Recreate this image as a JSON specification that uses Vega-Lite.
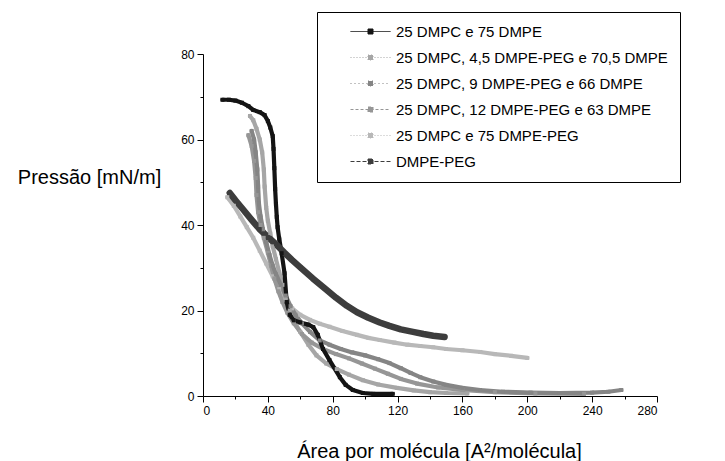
{
  "$schema": "https://vega.github.io/schema/vega-lite/v6.json",
  "width": 454,
  "height": 342,
  "autosize": {"type": "none"},
  "padding": {"left": 203, "top": 54, "right": 68, "bottom": 65},
  "background": "white",
  "config": {
    "font": "Liberation Sans",
    "view": {"stroke": null},
    "axis": {
      "grid": false,
      "domainColor": "black",
      "tickColor": "black",
      "labelColor": "black",
      "titleColor": "black",
      "labelFontSize": 12,
      "titleFontSize": 20,
      "titleFontWeight": "normal",
      "domainWidth": 1,
      "tickWidth": 1
    }
  },
  "datasets": {
    "isotermas": [
      {"series": "25 DMPC e 75 DMPE-PEG", "area": 15, "pressure": 46.5},
      {"series": "25 DMPC e 75 DMPE-PEG", "area": 19, "pressure": 44.5},
      {"series": "25 DMPC e 75 DMPE-PEG", "area": 23, "pressure": 42},
      {"series": "25 DMPC e 75 DMPE-PEG", "area": 27, "pressure": 39.5},
      {"series": "25 DMPC e 75 DMPE-PEG", "area": 31, "pressure": 37},
      {"series": "25 DMPC e 75 DMPE-PEG", "area": 35, "pressure": 34},
      {"series": "25 DMPC e 75 DMPE-PEG", "area": 39, "pressure": 31},
      {"series": "25 DMPC e 75 DMPE-PEG", "area": 43, "pressure": 28},
      {"series": "25 DMPC e 75 DMPE-PEG", "area": 47, "pressure": 25},
      {"series": "25 DMPC e 75 DMPE-PEG", "area": 51, "pressure": 22.5},
      {"series": "25 DMPC e 75 DMPE-PEG", "area": 55, "pressure": 20.5},
      {"series": "25 DMPC e 75 DMPE-PEG", "area": 60, "pressure": 19},
      {"series": "25 DMPC e 75 DMPE-PEG", "area": 66, "pressure": 17.8},
      {"series": "25 DMPC e 75 DMPE-PEG", "area": 72, "pressure": 16.9},
      {"series": "25 DMPC e 75 DMPE-PEG", "area": 78, "pressure": 16.2},
      {"series": "25 DMPC e 75 DMPE-PEG", "area": 86, "pressure": 15.2},
      {"series": "25 DMPC e 75 DMPE-PEG", "area": 95, "pressure": 14.3},
      {"series": "25 DMPC e 75 DMPE-PEG", "area": 102, "pressure": 13.6},
      {"series": "25 DMPC e 75 DMPE-PEG", "area": 109, "pressure": 13.1},
      {"series": "25 DMPC e 75 DMPE-PEG", "area": 118, "pressure": 12.5},
      {"series": "25 DMPC e 75 DMPE-PEG", "area": 126, "pressure": 12},
      {"series": "25 DMPC e 75 DMPE-PEG", "area": 134, "pressure": 11.7},
      {"series": "25 DMPC e 75 DMPE-PEG", "area": 142, "pressure": 11.4},
      {"series": "25 DMPC e 75 DMPE-PEG", "area": 150, "pressure": 11},
      {"series": "25 DMPC e 75 DMPE-PEG", "area": 160, "pressure": 10.7},
      {"series": "25 DMPC e 75 DMPE-PEG", "area": 171, "pressure": 10.3},
      {"series": "25 DMPC e 75 DMPE-PEG", "area": 180, "pressure": 9.8},
      {"series": "25 DMPC e 75 DMPE-PEG", "area": 190, "pressure": 9.4},
      {"series": "25 DMPC e 75 DMPE-PEG", "area": 200, "pressure": 8.9},

      {"series": "25 DMPC, 4,5 DMPE-PEG e 70,5 DMPE", "area": 29, "pressure": 65.5},
      {"series": "25 DMPC, 4,5 DMPE-PEG e 70,5 DMPE", "area": 31, "pressure": 64.5},
      {"series": "25 DMPC, 4,5 DMPE-PEG e 70,5 DMPE", "area": 33, "pressure": 62.5},
      {"series": "25 DMPC, 4,5 DMPE-PEG e 70,5 DMPE", "area": 35, "pressure": 60},
      {"series": "25 DMPC, 4,5 DMPE-PEG e 70,5 DMPE", "area": 36.5, "pressure": 57},
      {"series": "25 DMPC, 4,5 DMPE-PEG e 70,5 DMPE", "area": 37.5, "pressure": 53},
      {"series": "25 DMPC, 4,5 DMPE-PEG e 70,5 DMPE", "area": 38, "pressure": 49},
      {"series": "25 DMPC, 4,5 DMPE-PEG e 70,5 DMPE", "area": 39, "pressure": 44},
      {"series": "25 DMPC, 4,5 DMPE-PEG e 70,5 DMPE", "area": 40, "pressure": 41},
      {"series": "25 DMPC, 4,5 DMPE-PEG e 70,5 DMPE", "area": 41.5, "pressure": 38},
      {"series": "25 DMPC, 4,5 DMPE-PEG e 70,5 DMPE", "area": 43, "pressure": 35},
      {"series": "25 DMPC, 4,5 DMPE-PEG e 70,5 DMPE", "area": 45, "pressure": 32},
      {"series": "25 DMPC, 4,5 DMPE-PEG e 70,5 DMPE", "area": 47, "pressure": 29},
      {"series": "25 DMPC, 4,5 DMPE-PEG e 70,5 DMPE", "area": 49, "pressure": 26},
      {"series": "25 DMPC, 4,5 DMPE-PEG e 70,5 DMPE", "area": 51, "pressure": 23},
      {"series": "25 DMPC, 4,5 DMPE-PEG e 70,5 DMPE", "area": 53.5, "pressure": 20},
      {"series": "25 DMPC, 4,5 DMPE-PEG e 70,5 DMPE", "area": 56, "pressure": 17.5},
      {"series": "25 DMPC, 4,5 DMPE-PEG e 70,5 DMPE", "area": 60, "pressure": 15},
      {"series": "25 DMPC, 4,5 DMPE-PEG e 70,5 DMPE", "area": 65, "pressure": 12},
      {"series": "25 DMPC, 4,5 DMPE-PEG e 70,5 DMPE", "area": 70, "pressure": 9.5},
      {"series": "25 DMPC, 4,5 DMPE-PEG e 70,5 DMPE", "area": 76, "pressure": 7.6},
      {"series": "25 DMPC, 4,5 DMPE-PEG e 70,5 DMPE", "area": 82.5, "pressure": 6.3},
      {"series": "25 DMPC, 4,5 DMPE-PEG e 70,5 DMPE", "area": 90, "pressure": 5},
      {"series": "25 DMPC, 4,5 DMPE-PEG e 70,5 DMPE", "area": 98.6, "pressure": 3.7},
      {"series": "25 DMPC, 4,5 DMPE-PEG e 70,5 DMPE", "area": 108, "pressure": 2.7},
      {"series": "25 DMPC, 4,5 DMPE-PEG e 70,5 DMPE", "area": 119.6, "pressure": 1.9},
      {"series": "25 DMPC, 4,5 DMPE-PEG e 70,5 DMPE", "area": 130, "pressure": 1.3},
      {"series": "25 DMPC, 4,5 DMPE-PEG e 70,5 DMPE", "area": 140, "pressure": 0.9},
      {"series": "25 DMPC, 4,5 DMPE-PEG e 70,5 DMPE", "area": 150, "pressure": 0.7},
      {"series": "25 DMPC, 4,5 DMPE-PEG e 70,5 DMPE", "area": 163, "pressure": 0.6},

      {"series": "25 DMPC, 12 DMPE-PEG e 63 DMPE", "area": 28, "pressure": 61},
      {"series": "25 DMPC, 12 DMPE-PEG e 63 DMPE", "area": 30, "pressure": 58.5},
      {"series": "25 DMPC, 12 DMPE-PEG e 63 DMPE", "area": 31.5, "pressure": 55},
      {"series": "25 DMPC, 12 DMPE-PEG e 63 DMPE", "area": 32.5, "pressure": 51},
      {"series": "25 DMPC, 12 DMPE-PEG e 63 DMPE", "area": 33, "pressure": 47},
      {"series": "25 DMPC, 12 DMPE-PEG e 63 DMPE", "area": 34, "pressure": 43},
      {"series": "25 DMPC, 12 DMPE-PEG e 63 DMPE", "area": 35.5, "pressure": 40},
      {"series": "25 DMPC, 12 DMPE-PEG e 63 DMPE", "area": 37.5, "pressure": 37},
      {"series": "25 DMPC, 12 DMPE-PEG e 63 DMPE", "area": 40, "pressure": 33.5},
      {"series": "25 DMPC, 12 DMPE-PEG e 63 DMPE", "area": 42, "pressure": 30.5},
      {"series": "25 DMPC, 12 DMPE-PEG e 63 DMPE", "area": 44, "pressure": 27.5},
      {"series": "25 DMPC, 12 DMPE-PEG e 63 DMPE", "area": 46.5, "pressure": 24.5},
      {"series": "25 DMPC, 12 DMPE-PEG e 63 DMPE", "area": 49, "pressure": 22},
      {"series": "25 DMPC, 12 DMPE-PEG e 63 DMPE", "area": 52, "pressure": 19.5},
      {"series": "25 DMPC, 12 DMPE-PEG e 63 DMPE", "area": 56, "pressure": 17},
      {"series": "25 DMPC, 12 DMPE-PEG e 63 DMPE", "area": 61, "pressure": 14.5},
      {"series": "25 DMPC, 12 DMPE-PEG e 63 DMPE", "area": 67, "pressure": 12.5},
      {"series": "25 DMPC, 12 DMPE-PEG e 63 DMPE", "area": 74, "pressure": 11},
      {"series": "25 DMPC, 12 DMPE-PEG e 63 DMPE", "area": 82, "pressure": 9.8},
      {"series": "25 DMPC, 12 DMPE-PEG e 63 DMPE", "area": 90, "pressure": 8.8},
      {"series": "25 DMPC, 12 DMPE-PEG e 63 DMPE", "area": 98, "pressure": 7.6},
      {"series": "25 DMPC, 12 DMPE-PEG e 63 DMPE", "area": 106, "pressure": 6.4},
      {"series": "25 DMPC, 12 DMPE-PEG e 63 DMPE", "area": 114, "pressure": 5.2},
      {"series": "25 DMPC, 12 DMPE-PEG e 63 DMPE", "area": 122, "pressure": 4},
      {"series": "25 DMPC, 12 DMPE-PEG e 63 DMPE", "area": 132, "pressure": 2.9},
      {"series": "25 DMPC, 12 DMPE-PEG e 63 DMPE", "area": 145, "pressure": 2},
      {"series": "25 DMPC, 12 DMPE-PEG e 63 DMPE", "area": 160, "pressure": 1.4},
      {"series": "25 DMPC, 12 DMPE-PEG e 63 DMPE", "area": 180, "pressure": 0.9},
      {"series": "25 DMPC, 12 DMPE-PEG e 63 DMPE", "area": 205, "pressure": 0.6},
      {"series": "25 DMPC, 12 DMPE-PEG e 63 DMPE", "area": 235, "pressure": 0.5},

      {"series": "25 DMPC, 9 DMPE-PEG e 66 DMPE", "area": 30, "pressure": 62},
      {"series": "25 DMPC, 9 DMPE-PEG e 66 DMPE", "area": 31.5, "pressure": 60},
      {"series": "25 DMPC, 9 DMPE-PEG e 66 DMPE", "area": 32.5, "pressure": 57},
      {"series": "25 DMPC, 9 DMPE-PEG e 66 DMPE", "area": 33.5, "pressure": 53},
      {"series": "25 DMPC, 9 DMPE-PEG e 66 DMPE", "area": 34, "pressure": 49},
      {"series": "25 DMPC, 9 DMPE-PEG e 66 DMPE", "area": 34.5, "pressure": 45},
      {"series": "25 DMPC, 9 DMPE-PEG e 66 DMPE", "area": 35.5, "pressure": 42},
      {"series": "25 DMPC, 9 DMPE-PEG e 66 DMPE", "area": 37, "pressure": 39},
      {"series": "25 DMPC, 9 DMPE-PEG e 66 DMPE", "area": 39, "pressure": 36},
      {"series": "25 DMPC, 9 DMPE-PEG e 66 DMPE", "area": 41, "pressure": 33},
      {"series": "25 DMPC, 9 DMPE-PEG e 66 DMPE", "area": 43, "pressure": 30.5},
      {"series": "25 DMPC, 9 DMPE-PEG e 66 DMPE", "area": 45, "pressure": 28.5},
      {"series": "25 DMPC, 9 DMPE-PEG e 66 DMPE", "area": 48, "pressure": 26},
      {"series": "25 DMPC, 9 DMPE-PEG e 66 DMPE", "area": 51, "pressure": 23.5},
      {"series": "25 DMPC, 9 DMPE-PEG e 66 DMPE", "area": 54, "pressure": 21},
      {"series": "25 DMPC, 9 DMPE-PEG e 66 DMPE", "area": 57, "pressure": 19},
      {"series": "25 DMPC, 9 DMPE-PEG e 66 DMPE", "area": 61, "pressure": 17},
      {"series": "25 DMPC, 9 DMPE-PEG e 66 DMPE", "area": 66, "pressure": 15},
      {"series": "25 DMPC, 9 DMPE-PEG e 66 DMPE", "area": 72, "pressure": 13},
      {"series": "25 DMPC, 9 DMPE-PEG e 66 DMPE", "area": 78, "pressure": 12},
      {"series": "25 DMPC, 9 DMPE-PEG e 66 DMPE", "area": 85, "pressure": 11},
      {"series": "25 DMPC, 9 DMPE-PEG e 66 DMPE", "area": 92, "pressure": 10.2},
      {"series": "25 DMPC, 9 DMPE-PEG e 66 DMPE", "area": 100, "pressure": 9.5},
      {"series": "25 DMPC, 9 DMPE-PEG e 66 DMPE", "area": 108, "pressure": 8.6},
      {"series": "25 DMPC, 9 DMPE-PEG e 66 DMPE", "area": 115, "pressure": 7.7},
      {"series": "25 DMPC, 9 DMPE-PEG e 66 DMPE", "area": 122, "pressure": 6.5},
      {"series": "25 DMPC, 9 DMPE-PEG e 66 DMPE", "area": 128, "pressure": 5.4},
      {"series": "25 DMPC, 9 DMPE-PEG e 66 DMPE", "area": 134, "pressure": 4.4},
      {"series": "25 DMPC, 9 DMPE-PEG e 66 DMPE", "area": 142, "pressure": 3.4},
      {"series": "25 DMPC, 9 DMPE-PEG e 66 DMPE", "area": 150, "pressure": 2.6},
      {"series": "25 DMPC, 9 DMPE-PEG e 66 DMPE", "area": 160, "pressure": 1.9},
      {"series": "25 DMPC, 9 DMPE-PEG e 66 DMPE", "area": 171, "pressure": 1.4},
      {"series": "25 DMPC, 9 DMPE-PEG e 66 DMPE", "area": 185, "pressure": 1},
      {"series": "25 DMPC, 9 DMPE-PEG e 66 DMPE", "area": 202, "pressure": 0.8},
      {"series": "25 DMPC, 9 DMPE-PEG e 66 DMPE", "area": 220, "pressure": 0.7},
      {"series": "25 DMPC, 9 DMPE-PEG e 66 DMPE", "area": 240, "pressure": 0.8},
      {"series": "25 DMPC, 9 DMPE-PEG e 66 DMPE", "area": 250, "pressure": 1},
      {"series": "25 DMPC, 9 DMPE-PEG e 66 DMPE", "area": 258, "pressure": 1.4},

      {"series": "DMPE-PEG", "area": 16.5, "pressure": 47.5},
      {"series": "DMPE-PEG", "area": 20, "pressure": 45.8},
      {"series": "DMPE-PEG", "area": 25, "pressure": 43.5},
      {"series": "DMPE-PEG", "area": 30, "pressure": 41.2},
      {"series": "DMPE-PEG", "area": 35, "pressure": 39},
      {"series": "DMPE-PEG", "area": 40, "pressure": 37.2},
      {"series": "DMPE-PEG", "area": 45, "pressure": 35.5},
      {"series": "DMPE-PEG", "area": 50, "pressure": 33.6},
      {"series": "DMPE-PEG", "area": 55, "pressure": 31.8},
      {"series": "DMPE-PEG", "area": 60, "pressure": 30.1},
      {"series": "DMPE-PEG", "area": 67.7, "pressure": 27.5},
      {"series": "DMPE-PEG", "area": 75, "pressure": 25.2},
      {"series": "DMPE-PEG", "area": 82, "pressure": 23},
      {"series": "DMPE-PEG", "area": 88.7, "pressure": 21.1},
      {"series": "DMPE-PEG", "area": 95, "pressure": 19.6},
      {"series": "DMPE-PEG", "area": 102, "pressure": 18.3},
      {"series": "DMPE-PEG", "area": 109, "pressure": 17.2},
      {"series": "DMPE-PEG", "area": 115, "pressure": 16.4},
      {"series": "DMPE-PEG", "area": 122, "pressure": 15.6},
      {"series": "DMPE-PEG", "area": 129.5, "pressure": 15},
      {"series": "DMPE-PEG", "area": 136, "pressure": 14.5},
      {"series": "DMPE-PEG", "area": 142, "pressure": 14.1},
      {"series": "DMPE-PEG", "area": 149, "pressure": 13.8},

      {"series": "25 DMPC e 75 DMPE", "area": 12, "pressure": 69.3},
      {"series": "25 DMPC e 75 DMPE", "area": 16, "pressure": 69.3},
      {"series": "25 DMPC e 75 DMPE", "area": 20, "pressure": 69.1},
      {"series": "25 DMPC e 75 DMPE", "area": 24, "pressure": 68.6},
      {"series": "25 DMPC e 75 DMPE", "area": 28, "pressure": 67.8},
      {"series": "25 DMPC e 75 DMPE", "area": 31, "pressure": 66.9},
      {"series": "25 DMPC e 75 DMPE", "area": 35, "pressure": 66.4},
      {"series": "25 DMPC e 75 DMPE", "area": 38, "pressure": 65.7},
      {"series": "25 DMPC e 75 DMPE", "area": 40, "pressure": 64.3},
      {"series": "25 DMPC e 75 DMPE", "area": 41.5, "pressure": 62.8},
      {"series": "25 DMPC e 75 DMPE", "area": 43, "pressure": 60.8},
      {"series": "25 DMPC e 75 DMPE", "area": 43.5, "pressure": 57.8},
      {"series": "25 DMPC e 75 DMPE", "area": 44, "pressure": 53.3},
      {"series": "25 DMPC e 75 DMPE", "area": 44.5, "pressure": 48.4},
      {"series": "25 DMPC e 75 DMPE", "area": 45, "pressure": 44.9},
      {"series": "25 DMPC e 75 DMPE", "area": 45.5, "pressure": 41.9},
      {"series": "25 DMPC e 75 DMPE", "area": 46, "pressure": 39.5},
      {"series": "25 DMPC e 75 DMPE", "area": 47, "pressure": 36.8},
      {"series": "25 DMPC e 75 DMPE", "area": 48.5, "pressure": 33.4},
      {"series": "25 DMPC e 75 DMPE", "area": 50.3, "pressure": 28.7},
      {"series": "25 DMPC e 75 DMPE", "area": 51.6, "pressure": 22},
      {"series": "25 DMPC e 75 DMPE", "area": 53.5, "pressure": 19},
      {"series": "25 DMPC e 75 DMPE", "area": 56, "pressure": 17.7},
      {"series": "25 DMPC e 75 DMPE", "area": 60, "pressure": 17.2},
      {"series": "25 DMPC e 75 DMPE", "area": 65, "pressure": 16.7},
      {"series": "25 DMPC e 75 DMPE", "area": 68, "pressure": 16.1},
      {"series": "25 DMPC e 75 DMPE", "area": 70.8, "pressure": 14.3},
      {"series": "25 DMPC e 75 DMPE", "area": 74, "pressure": 11},
      {"series": "25 DMPC e 75 DMPE", "area": 78, "pressure": 8.4},
      {"series": "25 DMPC e 75 DMPE", "area": 84.4, "pressure": 4.4},
      {"series": "25 DMPC e 75 DMPE", "area": 88, "pressure": 2.6},
      {"series": "25 DMPC e 75 DMPE", "area": 92.4, "pressure": 1.4},
      {"series": "25 DMPC e 75 DMPE", "area": 98.6, "pressure": 0.7},
      {"series": "25 DMPC e 75 DMPE", "area": 105, "pressure": 0.5},
      {"series": "25 DMPC e 75 DMPE", "area": 117, "pressure": 0.5}
    ]
  },
  "data": {"name": "isotermas"},
  "encoding": {
    "x": {
      "field": "area",
      "type": "quantitative",
      "scale": {"domain": [0, 280], "nice": false, "zero": false},
      "axis": {
        "values": [0, 20, 40, 60, 80, 100, 120, 140, 160, 180, 200, 220, 240, 260, 280],
        "labelExpr": "datum.value % 40 === 0 ? datum.label : ''",
        "tickSize": {"condition": {"test": "datum.value % 40 !== 0", "value": 3}, "value": 6},
        "labelPadding": 3,
        "title": "Área por molécula [A²/molécula]",
        "titleX": 236,
        "titleY": 55,
        "titleAlign": "center",
        "titleBaseline": "middle"
      }
    },
    "y": {
      "field": "pressure",
      "type": "quantitative",
      "scale": {"domain": [0, 80], "nice": false, "zero": false},
      "axis": {
        "values": [0, 10, 20, 30, 40, 50, 60, 70, 80],
        "labelExpr": "datum.value % 20 === 0 ? datum.label : ''",
        "tickSize": {"condition": {"test": "datum.value % 20 !== 0", "value": 3}, "value": 6},
        "labelPadding": 3,
        "title": "Pressão [mN/m]",
        "titleAngle": 0,
        "titleX": -114,
        "titleY": 123,
        "titleAlign": "center",
        "titleBaseline": "middle"
      }
    }
  },
  "layer": [
    {
      "mark": {"type": "line", "strokeWidth": 4.2, "strokeJoin": "round", "strokeCap": "round"},
      "encoding": {
        "color": {
          "field": "series",
          "type": "nominal",
          "scale": {
            "domain": [
              "25 DMPC e 75 DMPE",
              "25 DMPC, 4,5 DMPE-PEG e 70,5 DMPE",
              "25 DMPC, 9 DMPE-PEG e 66 DMPE",
              "25 DMPC, 12 DMPE-PEG e 63 DMPE",
              "25 DMPC e 75 DMPE-PEG",
              "DMPE-PEG"
            ],
            "range": ["#141414", "#a6a6a6", "#858585", "#969696", "#b8b8b8", "#3d3d3d"]
          },
          "legend": {
            "title": null,
            "orient": "none",
            "legendX": 114,
            "legendY": -42,
            "padding": 12,
            "strokeColor": "black",
            "fillColor": "white",
            "labelFontSize": 15,
            "labelColor": "black",
            "labelLimit": 0,
            "labelOffset": 52,
            "rowPadding": 10,
            "symbolSize": 100,
            "symbolStrokeWidth": 1,
            "symbolType": "M2.8,0H10.8M6.3,-0.5H7.3V0.5H6.3Z",
            "encode": {
              "symbols": {
                "update": {
                  "fill": {"scale": "color", "field": "value"},
                  "strokeDash": {"signal": "datum.value === '25 DMPC e 75 DMPE' ? [1, 0] : datum.value === 'DMPE-PEG' ? [4, 2] : datum.value === '25 DMPC, 12 DMPE-PEG e 63 DMPE' ? [3, 2] : datum.value === '25 DMPC, 9 DMPE-PEG e 66 DMPE' ? [1, 3] : [1, 2]"}
                }
              }
            }
          }
        }
      }
    },
    {
      "transform": [{"filter": "datum.series === 'DMPE-PEG'"}],
      "mark": {"type": "line", "strokeWidth": 6.5, "strokeJoin": "round", "strokeCap": "round"},
      "encoding": {
        "color": {"field": "series", "type": "nominal", "legend": null}
      }
    },
    {
      "mark": {"type": "point", "filled": true, "shape": "square", "size": 16, "opacity": 1},
      "encoding": {
        "color": {"field": "series", "type": "nominal", "legend": null}
      }
    }
  ]
}
